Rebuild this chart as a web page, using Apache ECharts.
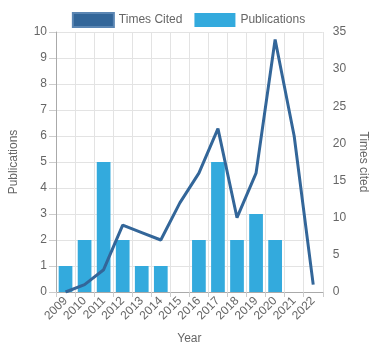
<!DOCTYPE html>
<html><head><meta charset="utf-8">
<script src="https://cdn.jsdelivr.net/npm/echarts@6/dist/echarts.min.js"></script>
<style>html,body{margin:0;padding:0;background:#fff}#c{width:377px;height:350px}</style>
</head><body><div id="c"></div>
<script>
var years = ['2009','2010','2011','2012','2013','2014','2015','2016','2017','2018','2019','2020','2021','2022'];
var publications = [1,2,5,2,1,1,0,2,5,2,3,2,0,0];
var timesCited = [0,1,3,9,8,7,12,16,22,10,16,34,21,1];

var chart = echarts.init(document.getElementById('c'));
var font = 'Liberation Sans, Arial, sans-serif';
chart.setOption({
  animation: false,
  textStyle: {fontFamily: font},
  legend: {
    top: 7, left: 'center', itemWidth: 41, itemHeight: 14, itemGap: 12,
    icon: 'rect',
    textStyle: {color: '#666', fontSize: 12, fontFamily: font},
    data: [{name: 'Times Cited', icon: 'rect'}, {name: 'Publications', icon: 'rect'}]
  },
  grid: {left: 52, right: 51, top: 32, bottom: 58},
  xAxis: {
    type: 'category', data: years,
    name: 'Year', nameLocation: 'middle', nameGap: 41,
    nameTextStyle: {color: '#666', fontSize: 12},
    axisLine: {lineStyle: {color: '#aaa'}},
    axisTick: {show: true, alignWithLabel: false, length: 5, lineStyle: {color: '#ccc'}},
    axisLabel: {rotate: 45, color: '#666', fontSize: 12, margin: 7, interval: 0},
    splitLine: {show: true, lineStyle: {color: '#e3e3e3'}}
  },
  yAxis: [{
    type: 'value', min: 0, max: 10, interval: 1,
    name: 'Publications', nameLocation: 'middle', nameGap: 36, nameRotate: 90,
    nameTextStyle: {color: '#666', fontSize: 12},
    axisLine: {show: true, lineStyle: {color: '#aaa'}},
    axisTick: {show: true, length: 7, lineStyle: {color: '#ccc'}},
    axisLabel: {color: '#666', fontSize: 12, margin: 9},
    splitLine: {show: true, lineStyle: {color: '#e3e3e3'}}
  }, {
    type: 'value', min: 0, max: 35, interval: 5,
    name: 'Times cited', nameLocation: 'middle', nameGap: 34, nameRotate: -90,
    nameTextStyle: {color: '#666', fontSize: 12},
    axisLine: {show: false},
    axisTick: {show: false},
    axisLabel: {color: '#666', fontSize: 12, margin: 10},
    splitLine: {show: false}
  }],
  series: [{
    name: 'Times Cited', type: 'line', yAxisIndex: 1, data: timesCited,
    symbol: 'none', z: 3,
    lineStyle: {color: '#336699', width: 3},
    itemStyle: {color: '#336699', borderColor: '#5b86b3', borderWidth: 1}
  }, {
    name: 'Publications', type: 'bar', yAxisIndex: 0, data: publications,
    barWidth: '72%',
    itemStyle: {color: '#33aadd'}
  }]
});
</script></body></html>
